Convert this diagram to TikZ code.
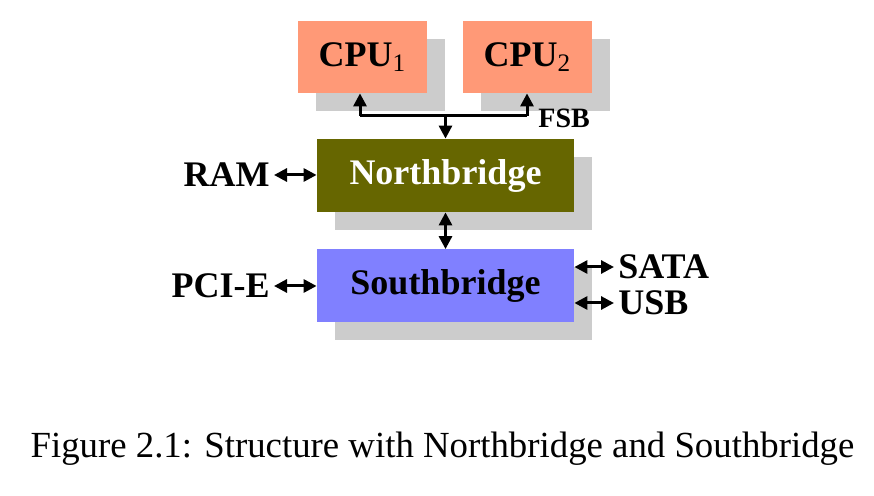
\documentclass[tikz,border=0pt]{standalone}
\usepackage{fontspec}
\setmainfont{Liberation Serif}
\usetikzlibrary{arrows.meta,shadows}
\definecolor{cpucol}{HTML}{FF9977}
\definecolor{nbcol}{HTML}{666600}
\definecolor{sbcol}{HTML}{8080FF}
\definecolor{shcol}{HTML}{CCCCCC}
\begin{document}
\begin{tikzpicture}[x=0.5pt,y=-0.5pt,
  box/.style={rectangle,inner sep=0pt,minimum width=128.5pt,minimum height=36.5pt,
     font=\fontsize{18}{20}\selectfont\bfseries,
     drop shadow={shadow xshift=9pt,shadow yshift=-9pt,fill=shcol,opacity=1}},
  cpubox/.style={box,fill=cpucol,minimum width=64.5pt,minimum height=36pt},
  lbl/.style={inner sep=2pt,font=\fontsize{18}{20}\selectfont\bfseries},
  tip/.tip={Triangle[length=6.5pt,width=6.5pt]},
  link/.style={line width=1.5pt,tip-tip},
  onelink/.style={line width=1.5pt,-tip}]
\useasboundingbox (0,0) rectangle (874,496);
\node[cpubox] (cpu1) at (362.5,57) {CPU$_{\mathrm{1}}$};
\node[cpubox] (cpu2) at (527.5,57) {CPU$_{\mathrm{2}}$};
\node[box,fill=nbcol,text=white] (nb) at (445.5,175.5) {Northbridge};
\node[box,fill=sbcol] (sb) at (445.5,286) {Southbridge};
\coordinate (b1) at (360,116);
\coordinate (b2) at (527,116);
\coordinate (bm) at (445.5,116);
\draw[line width=1.5pt] (b1) -- (b2);
\draw[onelink] (b1) -- (b1 |- cpu1.south);
\draw[onelink] (b2) -- (b2 |- cpu2.south);
\draw[onelink] (bm) -- (nb.north);
\node[inner sep=0pt,anchor=west,font=\fontsize{14}{16}\selectfont\bfseries] (fsb) at (538,118) {FSB};
\draw[link] (nb.south) -- (sb.north);
\node[lbl,anchor=east] (ram) at (274,175) {RAM};
\draw[link] (ram.east) -- (nb.west |- ram.east);
\node[lbl,anchor=east] (pcie) at (274,286) {PCI-E};
\draw[link] (pcie.east) -- (sb.west |- pcie.east);
\node[lbl,anchor=west] (sata) at (614,267) {SATA};
\node[lbl,anchor=west] (usb) at (614,303) {USB};
\draw[link] (sb.east |- sata.west) -- (sata.west);
\draw[link] (sb.east |- usb.west) -- (usb.west);
\node[inner sep=0pt,font=\fontsize{18.4}{20}\selectfont] (cap) at (442.5,449) {Figure 2.1: Structure with Northbridge and Southbridge};
\end{tikzpicture}
\end{document}
